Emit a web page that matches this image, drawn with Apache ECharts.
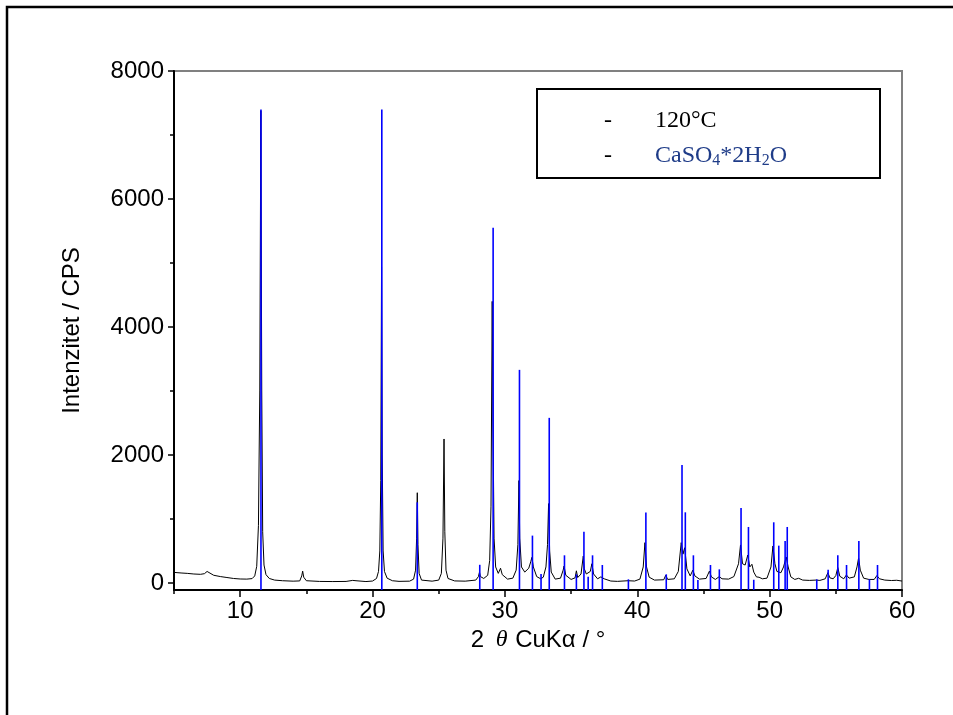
<!DOCTYPE html>
<html>
<head>
<meta charset="utf-8">
<script src="https://cdn.jsdelivr.net/npm/echarts@6/dist/echarts.min.js"></script>
<style>html,body{margin:0;padding:0;background:#fff;}#c{width:953px;height:715px;}</style>
</head>
<body>
<div id="c"></div>
<script>
// ---- data ----
const scanX = [5.0,5.3,5.6,6.0,6.5,7.0,7.3,7.5,7.65,8.0,8.5,9.0,9.5,10.0,10.5,10.9,11.1,11.25,11.38,11.48,11.56,11.63,11.7,11.8,11.95,12.2,12.6,13.2,14.0,14.5,14.65,14.72,14.8,15.0,16.0,17.0,18.0,18.5,18.62,18.75,19.5,20.0,20.3,20.45,20.55,20.62,20.68,20.73,20.8,20.9,21.1,21.5,22.0,22.8,23.1,23.25,23.33,23.38,23.43,23.52,23.7,24.5,25.0,25.2,25.32,25.4,25.46,25.55,25.7,26.2,27.0,27.8,28.0,28.08,28.15,28.4,28.7,28.85,28.95,29.04,29.1,29.18,29.3,29.5,29.67,29.8,30.2,30.6,30.85,30.98,31.06,31.12,31.25,31.5,31.8,31.95,32.04,32.15,32.4,32.7,32.9,33.1,33.22,33.3,33.38,33.5,33.8,34.2,34.4,34.47,34.6,35.0,35.3,35.4,35.5,35.75,35.92,36.0,36.15,36.3,36.45,36.57,36.7,37.0,37.25,37.34,37.5,38.0,38.5,39.3,39.8,40.2,40.45,40.58,40.7,40.9,41.3,42.0,42.15,42.3,42.8,43.1,43.32,43.45,43.58,43.75,44.0,44.2,44.35,44.7,45.2,45.45,45.6,45.9,46.2,46.4,46.9,47.3,47.65,47.8,47.95,48.15,48.35,48.5,48.66,48.8,49.0,49.2,49.45,49.8,50.1,50.25,50.4,50.55,50.7,50.85,51.05,51.25,51.4,51.6,51.9,52.19,52.5,53.0,53.5,53.8,54.2,54.4,54.55,54.8,55.0,55.15,55.3,55.6,55.8,56.0,56.4,56.6,56.72,56.85,57.1,57.5,57.9,58.1,58.3,58.7,59.2,59.6,60.0];
const scanY = [165,160,155,150,140,135,145,180,150,120,100,85,70,62,60,68,110,260,900,3000,7380,3000,800,280,130,70,45,35,28,32,110,185,90,35,24,22,24,40,65,35,22,30,70,180,500,1600,4940,2000,500,180,75,35,25,28,60,200,700,1410,600,150,45,28,45,150,700,2250,800,200,70,32,28,45,100,170,100,70,120,350,1200,4400,2500,700,250,150,230,130,60,75,200,600,1600,700,250,170,230,330,400,250,100,65,90,250,600,1240,500,170,60,75,200,265,120,55,80,190,85,140,420,220,140,110,180,300,140,65,95,125,65,30,25,35,30,60,250,630,250,90,45,50,120,55,65,180,630,450,550,220,110,200,110,60,70,185,95,55,100,65,60,100,300,594,300,280,437,250,292,170,95,89,65,75,250,578,300,180,203,160,250,406,250,95,55,73,45,40,45,40,65,161,80,65,115,240,105,65,125,75,95,250,390,200,75,55,55,115,65,45,38,42,30];
const stickPos = [11.57,20.70,23.38,28.10,29.11,31.10,32.08,32.73,33.35,34.50,35.40,35.97,36.29,36.62,37.36,39.33,40.65,42.19,43.38,43.63,44.24,44.58,45.53,46.20,47.84,48.40,48.80,50.31,50.69,51.17,51.33,53.56,54.42,55.15,55.81,56.74,57.54,58.15];
const stickInt = [7400,7400,1260,284,5550,3330,740,140,2580,432,135,802,99,432,281,57,1100,135,1844,1104,432,47,281,213,1172,875,50,948,583,656,875,57,208,432,281,656,57,281];
const xMajor = [10,20,30,40,50,60];
const xMinor = [5,15,25,35,45,55];
const yMajor = [0,2000,4000,6000,8000];
const yMinor = [1000,3000,5000,7000];
const seriesNames = ['120°C','CaSO4*2H2O'];

const X_MIN = 5, X_MAX = 60, Y_MIN = -110, Y_MAX = 8000;

const scanData = scanX.map((x,i)=>[x, scanY[i]]);
const stickData = stickPos.map((x,i)=>[x, stickInt[i]]);

const chart = echarts.init(document.getElementById('c'), null, {renderer:'canvas'});
const sans = 'Liberation Sans, Arial, sans-serif';
const lblFont = {fontFamily:sans, fontSize:24, color:'#000', formatter:function(v){return String(v);}};
const navy = '#1f3c88';
const gridBox = {left:174, right:51, top:71, bottom:125};

chart.setOption({
  animation:false,
  backgroundColor:'#fff',
  grid:[
    Object.assign({show:true, borderColor:'#808080', borderWidth:2, backgroundColor:'transparent'}, gridBox),
    Object.assign({show:false}, gridBox)
  ],
  xAxis:[{
    gridIndex:0, type:'value', min:X_MIN, max:X_MAX, position:'bottom',
    axisLine:{show:true, onZero:false, lineStyle:{color:'#000', width:2}},
    axisTick:{show:true, inside:false, length:7, lineStyle:{color:'#000', width:1.5}, customValues:xMajor},
    axisLabel:Object.assign({margin:9, customValues:xMajor}, lblFont),
    splitLine:{show:false},
    name:'{n|2 }{i|θ}{n| CuKα / °}', nameLocation:'middle', nameGap:34,
    nameTextStyle:{rich:{n:{fontFamily:sans, fontSize:24, color:'#000'}, i:{fontFamily:'Liberation Serif, Times New Roman, serif', fontStyle:'italic', fontSize:24, color:'#000', padding:[0,1,0,5]}}}
  },{
    gridIndex:1, type:'value', min:X_MIN, max:X_MAX, position:'bottom',
    axisLine:{show:false, onZero:false},
    axisTick:{show:true, inside:false, length:4, lineStyle:{color:'#000', width:1.5}, customValues:xMinor},
    axisLabel:{show:false},
    splitLine:{show:false}
  }],
  yAxis:[{
    gridIndex:0, type:'value', min:Y_MIN, max:Y_MAX, position:'left',
    axisLine:{show:true, onZero:false, lineStyle:{color:'#000', width:2}},
    axisTick:{show:true, inside:false, length:6, lineStyle:{color:'#000', width:1.5}, customValues:yMajor},
    axisLabel:Object.assign({margin:10, customValues:yMajor}, lblFont),
    splitLine:{show:false},
    name:'Intenzitet / CPS', nameLocation:'middle', nameGap:90, nameRotate:90,
    nameTextStyle:{fontFamily:sans, fontSize:24, color:'#000'}
  },{
    gridIndex:1, type:'value', min:Y_MIN, max:Y_MAX, position:'left',
    axisLine:{show:false, onZero:false},
    axisTick:{show:true, inside:false, length:4, lineStyle:{color:'#000', width:1.5}, customValues:yMinor},
    axisLabel:{show:false},
    splitLine:{show:false}
  }],
  series:[{
    name:seriesNames[0], type:'line', data:scanData, xAxisIndex:0, yAxisIndex:0,
    showSymbol:false, symbol:'none', lineStyle:{color:'#000', width:1}, z:2
  },{
    name:seriesNames[1], type:'custom', data:stickData, xAxisIndex:0, yAxisIndex:0, z:3,
    renderItem:function(params, api){
      const p0 = api.coord([api.value(0), Y_MIN]);
      const p1 = api.coord([api.value(0), api.value(1)]);
      return {type:'line', shape:{x1:p0[0], y1:p0[1], x2:p1[0], y2:p1[1]}, style:{stroke:'#0000ff', lineWidth:1.6}};
    }
  }],
  graphic:[
    {type:'rect', shape:{x:7, y:7, width:1200, height:1000}, style:{fill:null, stroke:'#000', lineWidth:2.5}, silent:true, z:0},
    {type:'rect', shape:{x:537, y:89, width:343, height:89}, style:{fill:'#fff', stroke:'#000', lineWidth:2}, z:10},
    {type:'text', x:604, y:121, style:{text:'-', fontFamily:'Liberation Serif, serif', fontSize:24, fill:'#000', verticalAlign:'middle'}, z:11},
    {type:'text', x:655, y:121, style:{text:seriesNames[0], fontFamily:'Liberation Serif, serif', fontSize:24, fill:'#000', verticalAlign:'middle'}, z:11},
    {type:'text', x:604, y:156, style:{text:'-', fontFamily:'Liberation Serif, serif', fontSize:24, fill:'#000', verticalAlign:'middle'}, z:11},
    {type:'text', x:655, y:156, style:{
      text:'{n|CaSO}{s|4}{n|*2H}{s|2}{n|O}', verticalAlign:'middle',
      rich:{
        n:{fontFamily:'Liberation Serif, serif', fontSize:24, fill:navy, color:navy, lineHeight:26},
        s:{fontFamily:'Liberation Serif, serif', fontSize:16, fill:navy, color:navy, lineHeight:10, verticalAlign:'bottom'}
      }}, z:11}
  ]
});
</script>
</body>
</html>
